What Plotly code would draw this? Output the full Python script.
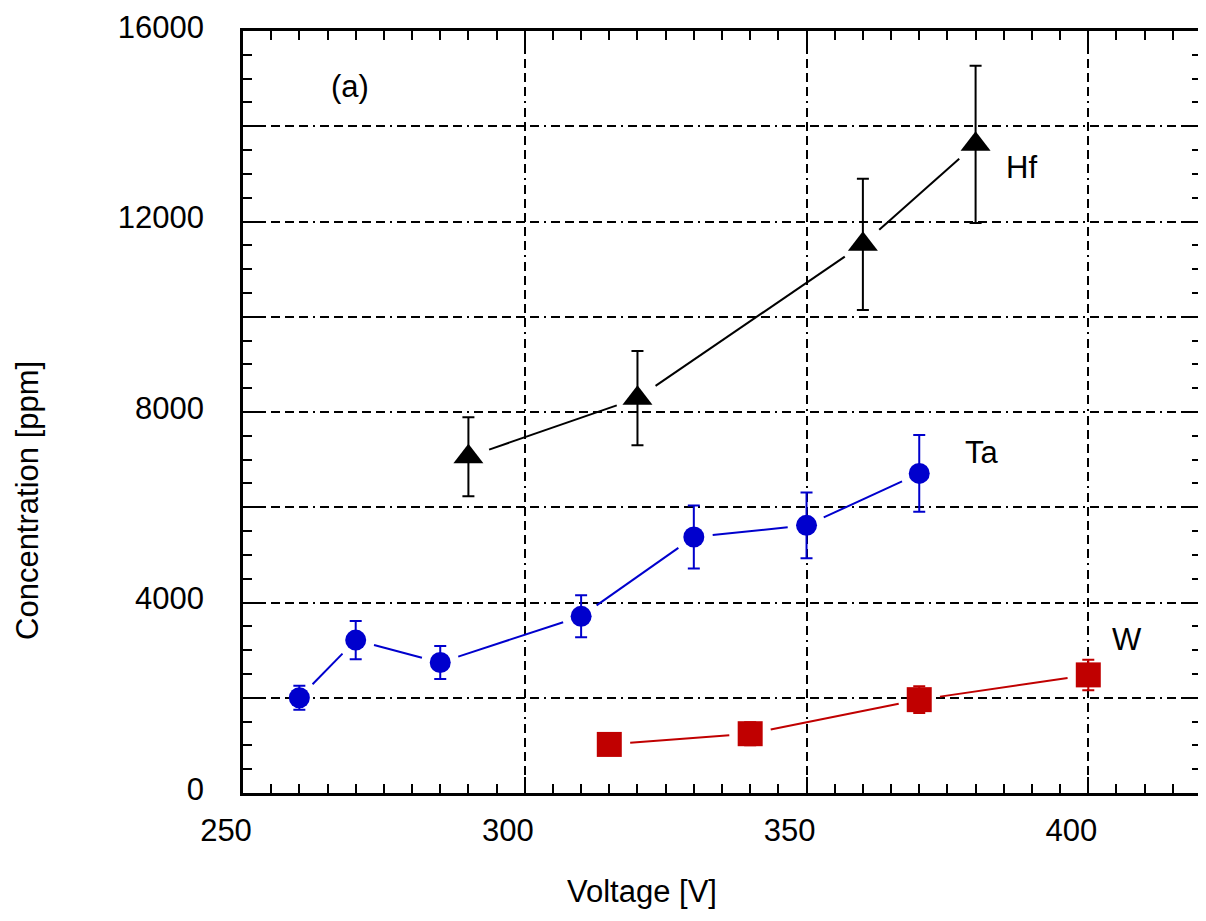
import plotly.graph_objects as go

# ---- data ----
hf_x = [290, 320, 360, 380]
hf_y = [7060, 8290, 11520, 13620]
hf_err = [830, 990, 1380, 1650]

ta_x = [260, 270, 285, 310, 330, 350, 370]
ta_y = [2000, 3210, 2740, 3710, 5375, 5620, 6710]
ta_err = [250, 400, 345, 440, 660, 690, 805]

w_x = [315, 340, 370, 400]
w_y = [1020, 1245, 1960, 2480]
w_err = [200, 240, 280, 320]

x_ticks = [250, 300, 350, 400]
y_ticks = [0, 2000, 4000, 6000, 8000, 10000, 12000, 14000, 16000]
y_labels = ["0", "", "4000", "", "8000", "", "12000", "", "16000"]

# ---- layout geometry (page body has an 8px margin) ----
OFF = 8
W, H = 1206 - OFF, 921 - 2 * OFF
ML, MR, MT = 243 - OFF, 2, 25 - OFF
MB = H - (793 - OFF)
XR = [250, 420]
YR = [0, 16000]
pw = W - ML - MR
ph = H - MT - MB
sx = pw / (XR[1] - XR[0])
sy = ph / (YR[1] - YR[0])

FONT = "Liberation Sans, Arial, sans-serif"
BLUE = "#0000CD"
RED = "#C00000"
BLACK = "#000000"


def gapped(xs, ys, gap):
    """Connect points with segments trimmed by `gap` pixels at each end."""
    lx, ly = [], []
    for i in range(len(xs) - 1):
        x0, y0 = xs[i] * sx, ys[i] * sy
        x1, y1 = xs[i + 1] * sx, ys[i + 1] * sy
        d = ((x1 - x0) ** 2 + (y1 - y0) ** 2) ** 0.5
        ux, uy = (x1 - x0) / d, (y1 - y0) / d
        lx += [(x0 + ux * gap) / sx, (x1 - ux * gap) / sx, None]
        ly += [(y0 + uy * gap) / sy, (y1 - uy * gap) / sy, None]
    return lx, ly


fig = go.Figure()

for xs, ys, errs, col, sym, size, gap in [
    (hf_x, hf_y, hf_err, BLACK, "triangle-up", 26, 22),
    (ta_x, ta_y, ta_err, BLUE, "circle", 21, 19),
    (w_x, w_y, w_err, RED, "square", 25, 21),
]:
    lx, ly = gapped(xs, ys, gap)
    fig.add_trace(go.Scatter(x=lx, y=ly, mode="lines",
                             line=dict(color=col, width=2),
                             hoverinfo="skip", showlegend=False))
    fig.add_trace(go.Scatter(
        x=xs, y=ys, mode="markers",
        marker=dict(symbol=sym, size=size, color=col, line=dict(width=0)),
        error_y=dict(type="data", array=errs, visible=True,
                     color=col, thickness=2, width=6),
        showlegend=False))

for txt, x, y in [("(a)", 268.9, 14830), ("Hf", 388.2, 13125),
                  ("Ta", 381.1, 7146), ("W", 406.9, 3229)]:
    fig.add_annotation(x=x, y=y, xref="x", yref="y", text=txt,
                       xanchor="center", yanchor="middle",
                       showarrow=False, font=dict(family=FONT, size=31, color=BLACK))


def px_to_paper(px, py):
    return (px - OFF - ML) / pw, (H - MB - (py - OFF)) / ph


tx, ty = px_to_paper(643, 892)
fig.add_annotation(x=tx, y=ty, xref="paper", yref="paper",
                   text="Voltage [V]", showarrow=False,
                   xanchor="center", yanchor="middle",
                   font=dict(family=FONT, size=31, color=BLACK))
tx, ty = px_to_paper(27, 498)
fig.add_annotation(x=tx, y=ty, xref="paper", yref="paper",
                   text="Concentration [ppm]", textangle=-90, showarrow=False,
                   xanchor="center", yanchor="middle",
                   font=dict(family=FONT, size=31, color=BLACK))

GRID_DASH = "9px,5px,9px,5px,9px,5px,9px,5px,9px,5px,2px,5px"

axis_common = dict(
    showline=True, linecolor=BLACK, linewidth=2.5, mirror="allticks",
    ticks="inside", ticklen=16, tickwidth=1.8, tickcolor=BLACK,
    showgrid=True, gridcolor=BLACK, gridwidth=1.8, griddash=GRID_DASH,
    zeroline=False, tickfont=dict(family=FONT, size=31, color=BLACK),
    ticklabeloverflow="allow",
)

fig.update_xaxes(range=XR, tickmode="array", tickvals=x_ticks,
                 ticktext=[str(v) for v in x_ticks],
                 ticklabelshift=-17, ticklabelstandoff=8,
                 minor=dict(dtick=5, tick0=250, ticks="inside", ticklen=9,
                            tickwidth=1.8, tickcolor=BLACK, showgrid=False),
                 **axis_common)
fig.update_yaxes(range=YR, tickmode="array", tickvals=y_ticks, ticktext=y_labels,
                 ticklabelshift=-4, ticklabelstandoff=30,
                 minor=dict(dtick=500, tick0=0, ticks="inside", ticklen=9,
                            tickwidth=1.8, tickcolor=BLACK, showgrid=False),
                 **axis_common)

fig.update_layout(width=W, height=H, margin=dict(l=ML, r=MR, t=MT, b=MB),
                  paper_bgcolor="white", plot_bgcolor="white",
                  font=dict(family=FONT, size=31, color=BLACK),
                  showlegend=False)

fig.write_html("out.html")
